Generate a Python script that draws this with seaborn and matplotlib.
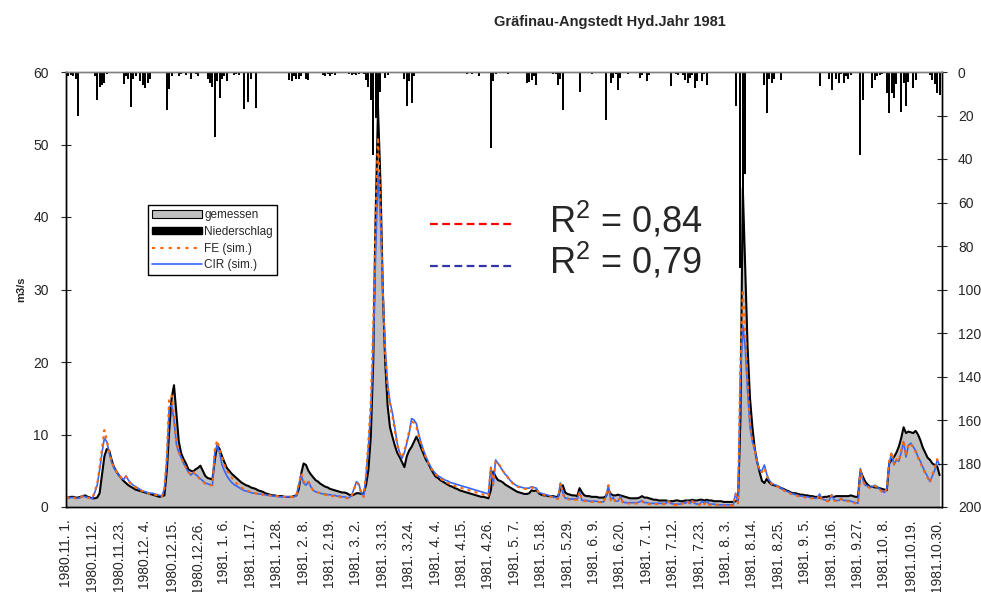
import numpy as np
import pandas as pd
import matplotlib
matplotlib.use("Agg")
import matplotlib.pyplot as plt
import seaborn as sns
from matplotlib.patches import Patch
from matplotlib.lines import Line2D

# ---------------- data (daily, 1980-11-01 .. 1981-10-31) ----------------
measured = (
    [1.3,1.3,1.4,1.4,1.3,1.3,1.4,1.5,1.6,1.4, 1.3,1.2,1.2,1.3,1.9,4.5,7.0,8.0,7.8,6.5, 5.5,4.9,4.4,4.0,3.6,3.3,3.0,2.8,2.6,2.4]
  + [2.3,2.2,2.1,2.0,1.9,1.8,1.7,1.6,1.5,1.4, 1.5,1.6,5.0,10.5,15.0,16.8,12.9,9.0,7.4,6.6, 6.0,5.2,5.0,4.9,5.2,5.4,5.7,5.0,4.3,4.0, 3.9]
  + [3.8,6.5,8.5,8.0,7.0,6.2,5.4,5.0,4.6,4.3, 4.0,3.7,3.4,3.2,3.0,2.9,2.7,2.6,2.5,2.3, 2.2,2.1,1.9,1.8,1.7,1.6,1.6,1.5,1.5,1.5, 1.4]
  + [1.4,1.4,1.4,1.5,1.6,2.5,4.6,6.0,5.8,5.0, 4.5,4.1,3.7,3.5,3.2,3.0,2.8,2.7,2.5,2.4, 2.3,2.2,2.1,2.0,2.0,1.9,1.7,1.6]
  + [1.7,1.9,1.9,1.8,1.9,3.0,5.1,9.7,20,40, 55,45,30,20,14,11,9.7,8.5,7.5,6.9, 6.2,5.5,7.0,7.8,8.3,9.0,9.7,9.0,8.1,7.3, 6.5]
  + [6.0,5.3,4.7,4.2,4.0,3.7,3.5,3.3,3.1,2.9, 2.8,2.6,2.5,2.3,2.2,2.1,2.0,1.9,1.8,1.7, 1.6,1.5,1.4,1.4,1.3,1.2,2.3,4.9,4.2,3.7]
  + [3.6,3.4,3.1,2.9,2.7,2.5,2.3,2.1,2.0,1.9, 1.8,1.8,1.9,2.3,2.2,2.3,1.9,1.7,1.6,1.6, 1.5,1.5,1.5,1.4,1.4,2.5,3.0,2.0,1.8,1.7, 1.6]
  + [1.6,1.5,2.6,2.0,1.6,1.5,1.5,1.4,1.4,1.4, 1.3,1.3,1.3,1.5,2.4,1.8,1.6,1.6,1.7,1.6, 1.5,1.4,1.3,1.2,1.2,1.2,1.2,1.3,1.5,1.3]
  + [1.3,1.2,1.1,1.0,1.0,0.9,0.9,0.9,0.9,0.8, 0.8,0.8,0.9,0.9,0.8,0.8,0.9,0.9,0.9,1.0, 0.9,0.9,1.0,1.0,0.9,1.0,0.9,0.9,0.8,0.8, 0.8]
  + [0.8,0.7,0.7,0.7,0.7,0.7,0.8,0.9,12,44, 33,22,15,11,8,6.2,4.8,3.6,3.3,3.9, 3.4,3.1,3.0,2.9,2.8,2.6,2.5,2.3,2.2,2.0, 1.9]
  + [1.9,1.8,1.7,1.7,1.6,1.6,1.5,1.5,1.4,1.4, 1.3,1.3,1.4,1.4,1.5,1.4,1.4,1.5,1.5,1.5, 1.5,1.5,1.5,1.6,1.5,1.4,1.4,5.0,4.2,3.5]
  + [3.1,2.8,2.8,2.7,2.7,2.6,2.5,2.4,2.3,6.0, 6.5,6.9,7.5,8.3,9.5,11.0,10.2,10.4,10.3,10.2, 10.5,10.0,9.2,8.2,7.5,6.8,6.5,6.0,5.8,5.6, 4.4]
)

fe_sim = (
    [1.3,1.3,1.3,1.3,1.2,1.2,1.3,1.5,1.4,1.3, 1.2,1.2,2.2,3.2,5.5,8.0,10.6,9.2,7.6,6.3, 5.5,4.9,4.4,4.0,3.8,4.2,3.6,3.2,2.9,2.7]
  + [2.5,2.3,2.2,2.0,1.9,1.8,1.8,1.7,1.6,1.5, 1.5,2.6,7.0,15.0,15.4,12.5,8.8,7.6,6.8,6.0, 5.4,4.8,4.5,4.9,4.4,4.1,3.8,3.5,3.2,3.1, 3.0]
  + [3.0,8.0,9.2,8.0,6.9,5.8,5.0,4.6,4.1,3.6, 3.3,3.0,2.7,2.5,2.3,2.2,2.1,1.9,1.9,1.8, 1.8,1.7,1.7,1.6,1.6,1.5,1.5,1.5,1.4,1.4, 1.4]
  + [1.4,1.4,1.4,1.4,1.6,3.2,4.6,3.5,3.3,3.6, 2.8,2.3,2.1,2.0,1.9,1.8,1.7,1.6,1.6,1.5, 1.5,1.4,1.4,1.3,1.3,1.2,1.2,1.5]
  + [2.4,3.4,3.0,1.9,1.4,4.5,9.0,14.5,25,40, 51,42,30,21,16.5,14.0,12.5,10.5,8.6,7.4, 6.8,7.8,9.0,10.5,11.8,11.6,11.0,9.8,8.6,7.6, 6.8]
  + [6.0,5.4,4.9,4.5,4.2,3.9,3.7,3.5,3.3,3.2, 3.0,2.9,2.8,2.7,2.6,2.5,2.4,2.3,2.2,2.1, 2.0,1.9,1.8,1.7,1.6,1.5,5.5,3.2,6.3,6.1]
  + [5.6,5.0,4.5,4.1,3.6,3.3,3.0,2.8,2.7,2.6, 2.5,2.5,2.5,2.7,2.6,2.5,1.9,1.8,1.7,1.6, 1.5,1.4,1.3,1.2,1.1,3.3,1.8,1.1,1.1,1.0, 1.0]
  + [1.0,1.0,2.1,0.9,0.8,0.8,0.8,0.7,0.7,0.7, 0.7,0.6,0.6,1.5,3.0,0.9,1.2,0.7,0.7,1.4, 0.6,0.5,0.5,0.5,0.5,0.5,0.5,0.6,0.8,0.5]
  + [0.5,0.4,0.4,0.4,0.4,0.4,0.4,0.4,0.4,0.8, 0.4,0.3,0.3,0.3,0.3,0.5,0.4,0.7,0.4,0.8, 0.4,0.3,0.3,0.7,0.4,0.7,0.3,0.3,0.3,0.3, 0.3]
  + [0.3,0.2,0.2,0.2,0.2,0.2,1.8,0.5,20,30, 24,17,11.5,9.2,7.8,6.0,5.0,4.8,5.4,4.3, 3.6,3.2,3.0,2.9,2.7,2.5,2.3,2.1,2.0,1.8, 1.7]
  + [1.6,1.5,1.4,1.4,1.3,1.3,1.2,1.2,1.1,1.1, 1.7,1.0,0.9,0.8,0.8,1.6,0.9,0.8,0.8,1.1, 0.8,0.8,0.8,0.7,0.6,0.5,0.4,5.1,3.6,2.9]
  + [2.8,2.6,2.7,2.9,2.7,2.4,2.1,1.9,2.6,6.4, 7.6,5.9,6.6,6.2,7.8,9.2,7.0,8.8,8.6,8.3, 7.6,6.8,6.1,5.3,4.6,4.0,3.4,4.5,5.4,6.6, 5.9]
)

cir_sim = (
    [1.3,1.3,1.3,1.3,1.2,1.2,1.3,1.5,1.4,1.3, 1.2,1.2,2.0,3.0,5.1,7.5,9.5,9.0,7.5,6.2, 5.4,4.9,4.4,4.0,3.8,4.3,3.7,3.3,3.0,2.8]
  + [2.6,2.4,2.2,2.1,2.0,1.9,1.9,1.8,1.7,1.6, 1.5,2.5,6.5,13.8,14.0,12.0,8.6,7.5,6.8,6.0, 5.4,4.8,4.4,4.7,4.5,4.2,3.9,3.6,3.3,3.2, 3.1]
  + [3.0,7.5,8.5,7.5,5.8,5.0,4.3,3.8,3.4,3.1, 2.9,2.7,2.5,2.3,2.2,2.1,2.0,1.9,1.9,1.8, 1.8,1.7,1.7,1.6,1.6,1.5,1.5,1.5,1.4,1.4, 1.4]
  + [1.4,1.4,1.4,1.4,1.6,3.0,4.4,3.3,3.0,3.5, 2.8,2.3,2.1,2.0,1.9,1.8,1.8,1.7,1.7,1.6, 1.6,1.5,1.5,1.4,1.4,1.3,1.3,1.6]
  + [2.5,3.5,3.2,2.0,1.4,4.2,8.3,13.4,22,35, 46,40,30,22,17,14.5,13.0,11.0,8.8,7.5, 6.7,7.5,8.8,10.2,12.2,12.0,11.5,10.0,8.8,7.8, 6.9]
  + [6.2,5.5,5.0,4.6,4.3,4.1,3.9,3.7,3.6,3.4, 3.3,3.2,3.1,3.0,2.9,2.8,2.7,2.6,2.5,2.4, 2.3,2.2,2.1,2.0,1.9,1.8,5.5,3.0,6.5,6.0]
  + [5.5,5.0,4.5,4.2,3.7,3.4,3.1,2.9,2.8,2.7, 2.6,2.6,2.6,2.8,2.7,2.6,2.0,1.9,1.8,1.7, 1.6,1.5,1.4,1.3,1.2,3.3,2.0,1.2,1.2,1.1, 1.1]
  + [1.1,1.1,2.1,0.9,0.9,0.9,0.8,0.8,0.8,0.8, 0.7,0.7,0.7,1.5,3.0,1.0,1.3,0.8,0.8,1.5, 0.7,0.6,0.6,0.6,0.6,0.6,0.6,0.7,0.9,0.6]
  + [0.6,0.5,0.5,0.5,0.5,0.5,0.5,0.5,0.5,0.9, 0.5,0.4,0.4,0.4,0.4,0.6,0.5,0.8,0.5,0.9, 0.5,0.4,0.4,0.8,0.5,0.8,0.4,0.4,0.4,0.3, 0.3]
  + [0.3,0.3,0.3,0.3,0.3,0.3,1.9,0.6,18,25, 22,16,11,9.0,7.9,6.2,5.1,5.0,5.8,4.5, 3.7,3.3,3.1,3.0,2.8,2.6,2.4,2.2,2.1,1.9, 1.8]
  + [1.7,1.6,1.5,1.5,1.4,1.4,1.3,1.3,1.2,1.2, 1.8,1.1,1.0,0.9,0.9,1.7,1.0,0.9,0.9,1.2, 0.9,0.9,0.9,0.8,0.7,0.6,0.5,5.3,3.8,3.0]
  + [2.9,2.7,2.8,3.0,2.8,2.5,2.2,2.0,2.5,6.0, 7.4,5.8,6.5,6.3,7.5,9.0,6.9,8.5,8.8,8.3, 7.8,6.9,6.3,5.5,4.8,4.2,3.5,4.3,5.1,6.5, 5.8]
)

precip = (
    [0,2,1.5,2,3,20,0,0.5,0.5,0.5, 0,0,2,13,7,6,5,1,0,0, 0,0,0,0,5.4,2,3,16,3,2]
  + [0,4,6,7.4,5,3,0,0,0,0, 0,0.5,17.3,8,2,0,0,2,1,0, 1.5,0,3,0,1,2,0,0,0,3, 5]
  + [7,30,4,12,3,2,4,0,0,1.5, 1,1.5,0,17,0,14,3,0,16.5,0, 0,0,0,0,0.5,0,0,0,0,0, 0]
  + [0,3.5,4,2,3,3,2,0,3,3.5, 0,0,0,0,0,1.5,2,1,2,1, 1.5,0.5,0,0,0,0,1,1.5]
  + [1,1.5,1,0.5,1,3.5,7,13,38,21, 20,9,0,2.6,1.5,0.5,0,0,0,0, 0,3,15.8,4,14.3,2,0,0,0,0, 0]
  + [0,0,0,0.5,0,0,0,0,0,0, 0,0,0,0,0,0,1,0.5,1,0.5, 0,2,0,0,0,0,35,4.3,1,0]
  + [0,0,0.5,1,0.5,0,0,0,0,0, 0,5,4.5,3.5,2,6,0,0,0,0, 0,0.5,1,1,5.8,3,17.3,0,0,0, 0]
  + [0,0,9.2,0,0,0,0.5,1,0.5,0.5, 0,0.5,0,21.9,0,5,2.6,1,8.1,2.6, 0,0,1,0.5,0,0,0,2.6,1.5,0]
  + [4.3,1.5,0.5,0,0,0,0,0,0,0, 6.6,0,1,1.5,0,1.5,3.5,5,2.6,1.5, 7.4,4.3,0,4.3,1,5.8,0,0.5,0.5,0, 0]
  + [0,0.3,0.3,0,0,0,15.6,0,90,58, 47,0,0,0,0,0.5,0,0,5.8,19, 3,5,3,0,0,3.5,0,0,0,0, 0]
  + [0,0,0,0,0,0,0,0,0,0, 6.6,0,0,0,3,8.1,0,3,5,1, 5,2,3,1.5,0,0,0,38,12.7,0]
  + [0,0,7.4,3.5,2,1.5,1,0,9.7,19, 9.7,12,5.5,0,18.4,5,15.8,4.5,0,7.4, 3.5,0,0,0,0.5,0,1.5,3.5,5.5,9.7, 10.4]
)

tick_labels = ["1980.11. 1.", "1980.11.12.", "1980.11.23.", "1980.12. 4.", "1980.12.15.",
               "1980.12.26.", "1981. 1. 6.", "1981. 1.17.", "1981. 1.28.", "1981. 2. 8.",
               "1981. 2.19.", "1981. 3. 2.", "1981. 3.13.", "1981. 3.24.", "1981. 4. 4.",
               "1981. 4.15.", "1981. 4.26.", "1981. 5. 7.", "1981. 5.18.", "1981. 5.29.",
               "1981. 6. 9.", "1981. 6.20.", "1981. 7. 1.", "1981. 7.12.", "1981. 7.23.",
               "1981. 8. 3.", "1981. 8.14.", "1981. 8.25.", "1981. 9. 5.", "1981. 9.16.",
               "1981. 9.27.", "1981.10. 8.", "1981.10.19.", "1981.10.30."]
r2_labels = ["R$^2$ = 0,84", "R$^2$ = 0,79"]

days = np.arange(len(measured))
df = pd.DataFrame({"day": days, "gemessen": measured, "FE": fe_sim,
                   "CIR": cir_sim, "N": precip})

# ---------------- style ----------------
sns.set_theme(style="white")
plt.rcParams["font.family"] = ["Liberation Sans", "DejaVu Sans"]
plt.rcParams["mathtext.fontset"] = "custom"
plt.rcParams["mathtext.rm"] = "Liberation Sans"
plt.rcParams["mathtext.it"] = "Liberation Sans"
plt.rcParams["mathtext.default"] = "regular"

fig = plt.figure(figsize=(9.81, 5.92), dpi=100)
ax = fig.add_axes([66/981, 1-507/592, 876/981, 435/592])

ax.fill_between(df["day"], df["gemessen"], 0, color="#c0c0c0", lw=0, zorder=1)
sns.lineplot(data=df, x="day", y="gemessen", ax=ax, color="black", lw=1.5, zorder=3)
sns.lineplot(data=df, x="day", y="CIR", ax=ax, color="#3366ff", lw=1.2, zorder=4)
sns.lineplot(data=df, x="day", y="FE", ax=ax, color="#ff6600", lw=1.5,
             linestyle=(0, (1.5, 2.0)), zorder=5)

ax2 = ax.twinx()
sns.barplot(data=df, x="day", y="N", ax=ax2, native_scale=True, color="black",
            saturation=1, width=0.9, linewidth=0, errorbar=None)
ax2.set_ylim(200, 0)
ax2.set_yticks(np.arange(0, 201, 20))
ax2.set_ylabel("")
ax2.set_xlabel("")

ax.set_ylim(0, 60)
ax.set_yticks(np.arange(0, 61, 10))
ax.set_xlim(0, 365)
ax.set_xticks(np.arange(0, 364, 11))
ax.set_xticklabels(tick_labels, rotation=90, fontsize=10)
ax.set_xticks(days, minor=True)
ax.set_xlabel("")
ax.set_ylabel("m3/s", fontsize=8, fontweight="bold", labelpad=5)
ax.tick_params(axis="y", direction="inout", length=7, width=0.8, labelsize=10, pad=9)
ax2.tick_params(axis="y", direction="inout", length=7, width=0.8, labelsize=10, pad=8)
ax.tick_params(axis="x", which="major", direction="out", length=6, width=0.6, pad=3)
ax.tick_params(axis="x", which="minor", direction="out", length=4, width=0.5)

for a in (ax, ax2):
    for s in ("left", "right", "bottom"):
        a.spines[s].set_color("black")
        a.spines[s].set_linewidth(1.0)
    a.spines["top"].set_color("#808080")
    a.spines["top"].set_linewidth(1.0)

# legend
handles = [Patch(facecolor="#c0c0c0", edgecolor="black", lw=0.8),
           Patch(facecolor="black", edgecolor="black"),
           Line2D([], [], color="#ff6600", lw=1.5, linestyle=(0, (1.5, 2.5))),
           Line2D([], [], color="#3366ff", lw=1.2)]
leg = ax2.legend(handles, ["gemessen", "Niederschlag", "FE (sim.)", "CIR (sim.)"],
                 loc="upper left", bbox_to_anchor=((148-66)/876, (507-205)/435),
                 borderaxespad=0, fontsize=8.5, frameon=True, fancybox=False,
                 handlelength=4.2, handletextpad=0.2, labelspacing=0.4,
                 borderpad=0.35, handleheight=0.6)
leg.get_frame().set_edgecolor("black")
leg.get_frame().set_linewidth(1.0)
leg.get_frame().set_alpha(1)

# R² annotations
fig.add_artist(Line2D([430/981, 515/981], [1-224/592, 1-224/592], color="#ff0000",
                      lw=1.6, linestyle=(0, (3.5, 2))))
fig.add_artist(Line2D([430/981, 515/981], [1-266/592, 1-266/592], color="#3333aa",
                      lw=1.6, linestyle=(0, (3.5, 2))))
fig.text(549/981, 1-220/592, r2_labels[0], fontsize=26, va="center", ha="left")
fig.text(549/981, 1-261/592, r2_labels[1], fontsize=26, va="center", ha="left")

fig.text(610/981, 1-22/592, "Gräfinau-Angstedt Hyd.Jahr 1981", fontsize=10.5,
         fontweight="bold", ha="center", va="center")

fig.savefig("out.png", dpi=100)
